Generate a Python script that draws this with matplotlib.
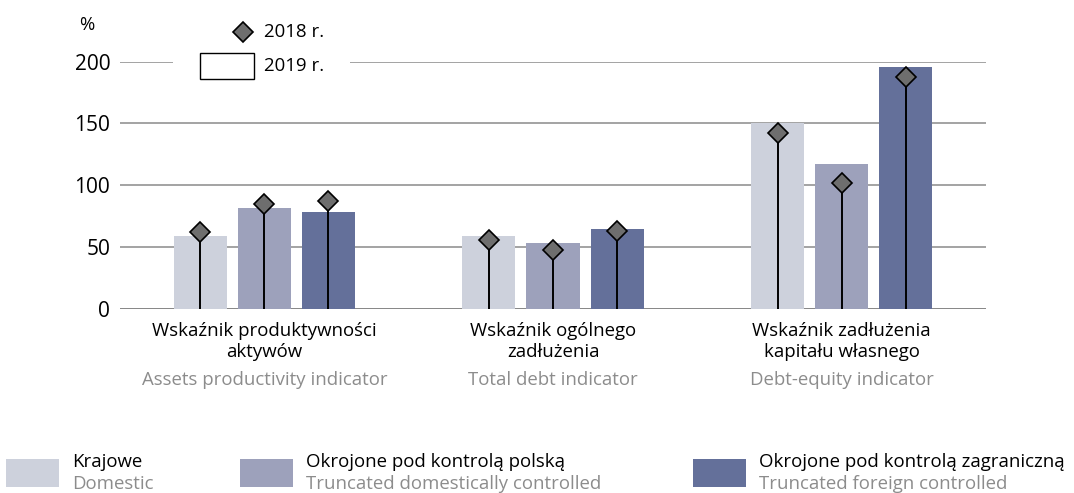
import matplotlib
matplotlib.use("Agg")
import matplotlib.pyplot as plt
from matplotlib.patches import Rectangle
from matplotlib.lines import Line2D
import numpy as np

plt.rcParams["font.family"] = ["Open Sans", "DejaVu Sans"]

# ── data ────────────────────────────────────────────────────────────────────
cat_pl = ["Wskaźnik produktywności\naktywów",
          "Wskaźnik ogólnego\nzadłużenia",
          "Wskaźnik zadłużenia\nkapitału własnego"]
cat_en = ["Assets productivity indicator",
          "Total debt indicator",
          "Debt-equity indicator"]

series_pl = ["Krajowe", "Okrojone pod kontrolą polską", "Okrojone pod kontrolą zagraniczną"]
series_en = ["Domestic", "Truncated domestically controlled", "Truncated foreign controlled"]

# 2019 (bars) and 2018 (diamonds), one list per series
v2019 = [[59, 59, 150],     # Krajowe
         [82, 53, 117],     # polską
         [78, 64.5, 195.5]] # zagraniczną
v2018 = [[62, 56, 142.5],
         [84.5, 47.5, 101.5],
         [87.5, 63, 187.5]]

yticks = [0, 50, 100, 150, 200]

COLORS = ["#cdd1dc", "#9da1bb", "#64709a"]
DIAMOND = "#6e6e6e"
GRID = "#8a8a8a"
GREY_TXT = "#8c8c8c"
FS = 13.4

W, H = 1074, 493
fig = plt.figure(figsize=(W / 100, H / 100), dpi=100)
ax = fig.add_axes([120 / W, 1 - 309 / H, (986 - 120) / W, (309 - 61.5) / H])

x = np.arange(len(cat_pl))
bw = 0.184
step = 0.222
for k in range(3):
    xs = x + (k - 1) * step
    ax.bar(xs, v2019[k], width=bw, color=COLORS[k], zorder=2)
    ax.vlines(xs, 0, v2018[k], color="black", lw=1.4, zorder=3)
    ax.plot(xs, v2018[k], ls="none", marker="D", ms=10.5, mfc=DIAMOND,
            mec="black", mew=1.2, zorder=4, clip_on=False)

ax.set_xlim(-0.5, 2.5)
ax.set_ylim(0, 200)
ax.set_yticks(yticks)
ax.set_yticklabels([str(t) for t in yticks], fontsize=15)
ax.tick_params(axis="y", length=0, pad=7)
ax.set_xticks([])
for t in yticks:
    ax.axhline(t, color=GRID if t else "#666666", lw=1.1, zorder=1)
for s in ax.spines.values():
    s.set_visible(False)

fig.text(87 / W, 1 - 25 / H, "%", fontsize=FS, ha="center", va="center")

# category labels: two black lines, one grey line
for i in x:
    lines = cat_pl[i].split("\n")
    for j, line in enumerate(lines):
        ax.annotate(line, (i, 0), xytext=(0, -16 - 15.2 * j),
                    textcoords="offset points", ha="center", va="center",
                    fontsize=FS, annotation_clip=False)
    ax.annotate(cat_en[i], (i, 0), xytext=(0, -51), textcoords="offset points",
                ha="center", va="center", fontsize=FS, color=GREY_TXT,
                annotation_clip=False)

# top legend (white box hides the 200 gridline)
fig.add_artist(Rectangle((173 / W, 1 - 88 / H), (350 - 173) / W, 80 / H,
                         transform=fig.transFigure, facecolor="white",
                         edgecolor="none", zorder=5))
fig.add_artist(Line2D([243 / W], [1 - 32 / H], transform=fig.transFigure,
                      marker="D", ms=10.5, mfc=DIAMOND, mec="black", mew=1.2,
                      zorder=6))
fig.text(264 / W, 1 - 32 / H, "2018 r.", fontsize=FS, va="center", zorder=6)
fig.add_artist(Rectangle((200 / W, 1 - 79 / H), 54 / W, 26 / H,
                         transform=fig.transFigure, facecolor="white",
                         edgecolor="black", lw=1.0, zorder=6))
fig.text(264 / W, 1 - 66 / H, "2019 r.", fontsize=FS, va="center", zorder=6)

# bottom legend
leg_x = [6, 240, 693]
for k in range(3):
    fig.add_artist(Rectangle((leg_x[k] / W, 1 - 487 / H), 53 / W, 28 / H,
                             transform=fig.transFigure, facecolor=COLORS[k],
                             edgecolor="none"))
    fig.text((leg_x[k] + 66) / W, 1 - 462 / H, series_pl[k], fontsize=FS,
             va="center")
    fig.text((leg_x[k] + 66) / W, 1 - 484 / H, series_en[k], fontsize=FS,
             va="center", color=GREY_TXT)

fig.savefig("out.png", dpi=100)
